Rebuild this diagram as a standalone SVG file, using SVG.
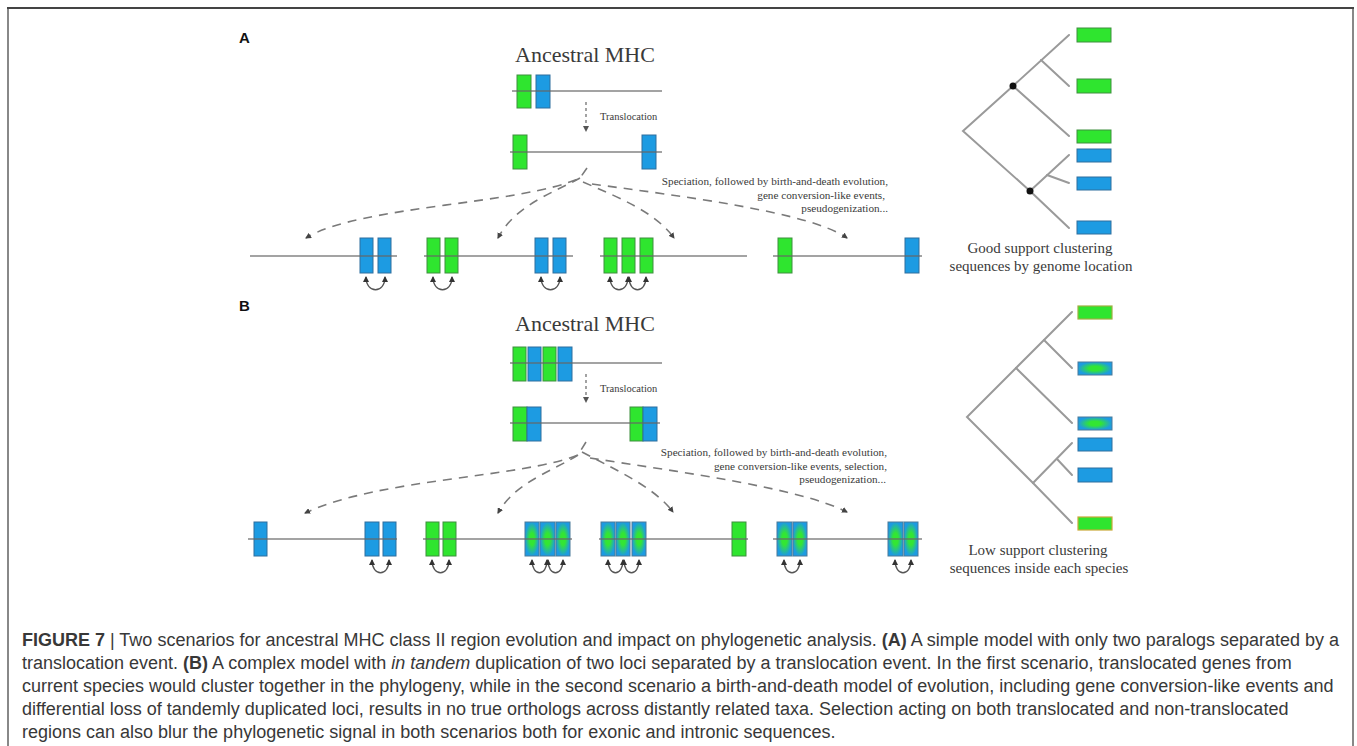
<svg xmlns="http://www.w3.org/2000/svg" width="1357" height="746" viewBox="0 0 1357 746">
<style>
.frame{stroke:#888;stroke-width:2;fill:none}
.chr{stroke:#666;stroke-width:2;stroke-opacity:.6}
.g{fill:#2fe52f;stroke:#3f8f3f;stroke-width:1}
.b{fill:#1d9be2;stroke:#2f6e9e;stroke-width:1}
.m{fill:url(#mix);stroke:#4a7a9a;stroke-width:1}
.dash{fill:none;stroke:#7a7a7a;stroke-width:1.6;stroke-dasharray:9 7;marker-end:url(#ah)}
.arc{fill:none;stroke:#555;stroke-width:1.3;marker-start:url(#aa);marker-end:url(#aa)}
.tree{stroke:#9a9a9a;stroke-width:2;fill:none;stroke-linecap:round}
.serif{font-family:"Liberation Serif","Times New Roman",serif;fill:#3a3a3a}
.lbl{font-family:"Liberation Sans",Arial,sans-serif;font-weight:bold;font-size:15px;fill:#111}
.cap{font-family:"Liberation Sans",Arial,sans-serif;font-size:18px;fill:#383838}
</style>
<defs>
<radialGradient id="mix" cx="0.5" cy="0.5" r="0.5">
<stop offset="0" stop-color="#33e633"/>
<stop offset="0.35" stop-color="#33e633"/>
<stop offset="1" stop-color="#1d9be2"/>
</radialGradient>
<marker id="ah" markerWidth="6" markerHeight="6" refX="5" refY="3" orient="auto" markerUnits="userSpaceOnUse">
<path d="M0,0 L6,3 L0,6 z" fill="#444"/>
</marker>
<marker id="aa" markerWidth="6" markerHeight="6" refX="5" refY="3" orient="auto-start-reverse" markerUnits="userSpaceOnUse">
<path d="M0,0 L6,3 L0,6 z" fill="#333"/>
</marker>
<marker id="av" markerWidth="6" markerHeight="6" refX="5" refY="3" orient="auto" markerUnits="userSpaceOnUse">
<path d="M0,0 L6,3 L0,6 z" fill="#555"/>
</marker>
</defs>
<rect width="1357" height="746" fill="#fff"/>
<g id="frame">
<line x1="8" y1="8" x2="8" y2="746" class="frame"/>
<line x1="1353" y1="8" x2="1353" y2="746" class="frame"/>
<line x1="7" y1="8" x2="1354" y2="8" stroke="#444" stroke-width="2"/>
</g>

<!-- ================= PANEL A ================= -->
<g id="panelA">
<text x="239" y="43" class="lbl">A</text>
<text x="515" y="62" class="serif" font-size="22">Ancestral MHC</text>

<g id="A-ancestral">
<rect x="517" y="75" width="14" height="33" class="g"/>
<rect x="536" y="75" width="14" height="33" class="b"/>
<line x1="512" y1="91" x2="662" y2="91" class="chr"/>
</g>
<g id="A-translocation">
<line x1="586" y1="102" x2="586" y2="131" stroke="#666" stroke-width="1.2" stroke-dasharray="3 3" marker-end="url(#av)"/>
<text x="600" y="120" class="serif" font-size="10.5">Translocation</text>
</g>
<g id="A-translocated">
<rect x="513" y="135" width="14" height="34" class="g"/>
<rect x="642" y="135" width="14" height="34" class="b"/>
<line x1="510" y1="152" x2="662" y2="152" class="chr"/>
</g>
<g id="A-speciation" class="serif" font-size="11.2" text-anchor="end">
<text x="888" y="185">Speciation, followed by birth-and-death evolution,</text>
<text x="885" y="198.5">gene conversion-like events,</text>
<text x="888" y="212">pseudogenization...</text>
</g>

<g id="A-species1">
<rect x="360" y="238" width="13" height="35" class="b"/>
<rect x="378" y="238" width="13" height="35" class="b"/>
<line x1="250" y1="256" x2="397" y2="256" class="chr"/>
</g>
<g id="A-species2">
<rect x="427" y="238" width="13" height="35" class="g"/>
<rect x="445" y="238" width="13" height="35" class="g"/>
<rect x="535" y="238" width="13" height="35" class="b"/>
<rect x="553" y="238" width="13" height="35" class="b"/>
<line x1="424" y1="256" x2="573" y2="256" class="chr"/>
</g>
<g id="A-species3">
<rect x="604" y="238" width="13" height="35" class="g"/>
<rect x="622" y="238" width="13" height="35" class="g"/>
<rect x="640" y="238" width="13" height="35" class="g"/>
<line x1="600" y1="256" x2="747" y2="256" class="chr"/>
</g>
<g id="A-species4">
<rect x="778" y="238" width="14" height="35" class="g"/>
<rect x="905" y="238" width="14" height="35" class="b"/>
<line x1="773" y1="256" x2="922" y2="256" class="chr"/>
</g>

<g id="A-treeGroup">
<g id="A-tree" class="tree">
<path d="M1013,86 L963,131 L1030,191"/>
<path d="M1013,86 L1069,35"/>
<path d="M1041,60 L1069,86"/>
<path d="M1013,86 L1069,136"/>
<path d="M1030,191 L1069,155"/>
<path d="M1047,175 L1069,183"/>
<path d="M1030,191 L1069,228"/>
</g>
<circle cx="1013" cy="86" r="3.5" fill="#111"/>
<circle cx="1030" cy="191" r="3.5" fill="#111"/>
<rect x="1077" y="28" width="34" height="14" class="g"/>
<rect x="1077" y="79" width="34" height="14" class="g"/>
<rect x="1077" y="130" width="34" height="13" class="g"/>
<rect x="1077" y="149" width="34" height="13" class="b"/>
<rect x="1077" y="177" width="34" height="13" class="b"/>
<rect x="1077" y="221" width="34" height="13" class="b"/>
<text x="1040" y="253" class="serif" font-size="15" text-anchor="middle">Good support clustering</text>
<text x="1041" y="271" class="serif" font-size="15" text-anchor="middle">sequences by genome location</text>
</g>
</g>

<!-- ================= PANEL B ================= -->
<g id="panelB">
<text x="239" y="311" class="lbl">B</text>
<text x="515" y="331" class="serif" font-size="22">Ancestral MHC</text>

<g id="B-ancestral">
<rect x="513" y="347" width="13" height="34" class="g"/>
<rect x="528" y="347" width="13" height="34" class="b"/>
<rect x="543" y="347" width="13" height="34" class="g"/>
<rect x="558" y="347" width="14" height="34" class="b"/>
<line x1="510" y1="363" x2="662" y2="363" class="chr"/>
</g>
<g id="B-translocation">
<line x1="586" y1="374" x2="586" y2="402" stroke="#666" stroke-width="1.2" stroke-dasharray="3 3" marker-end="url(#av)"/>
<text x="600" y="392" class="serif" font-size="10.5">Translocation</text>
</g>
<g id="B-translocated">
<rect x="513" y="407" width="14" height="34" class="g"/>
<rect x="527" y="407" width="14" height="34" class="b"/>
<rect x="630" y="407" width="13" height="34" class="g"/>
<rect x="643" y="407" width="14" height="34" class="b"/>
<line x1="510" y1="423" x2="660" y2="423" class="chr"/>
</g>
<g id="B-speciation" class="serif" font-size="11.2" text-anchor="end">
<text x="887" y="456">Speciation, followed by birth-and-death evolution,</text>
<text x="887" y="469.5">gene conversion-like events, selection,</text>
<text x="886" y="483">pseudogenization...</text>
</g>

<g id="B-species1">
<rect x="254" y="522" width="13" height="34" class="b"/>
<rect x="365" y="522" width="14" height="34" class="b"/>
<rect x="383" y="522" width="13" height="34" class="b"/>
<line x1="248" y1="539" x2="397" y2="539" class="chr"/>
</g>
<g id="B-species2">
<rect x="426" y="522" width="13" height="34" class="g"/>
<rect x="443" y="522" width="13" height="34" class="g"/>
<rect x="525" y="522" width="14" height="34" class="m"/>
<rect x="540" y="522" width="15" height="34" class="m"/>
<rect x="556" y="522" width="14" height="34" class="m"/>
<line x1="423" y1="539" x2="572" y2="539" class="chr"/>
</g>
<g id="B-species3">
<rect x="601" y="522" width="14" height="34" class="m"/>
<rect x="616" y="522" width="14" height="34" class="m"/>
<rect x="632" y="522" width="14" height="34" class="m"/>
<rect x="732" y="522" width="14" height="34" class="g"/>
<line x1="599" y1="539" x2="748" y2="539" class="chr"/>
</g>
<g id="B-species4">
<rect x="777" y="522" width="15" height="34" class="m"/>
<rect x="793" y="522" width="14" height="34" class="m"/>
<rect x="888" y="522" width="15" height="34" class="m"/>
<rect x="904" y="522" width="14" height="34" class="m"/>
<line x1="773" y1="539" x2="922" y2="539" class="chr"/>
</g>

<g id="B-treeGroup">
<g id="B-tree" class="tree">
<path d="M1016,368 L967,417 L1033,483"/>
<path d="M1016,368 L1072,312"/>
<path d="M1044,340 L1072,368"/>
<path d="M1016,368 L1072,423"/>
<path d="M1033,483 L1072,443"/>
<path d="M1057,459 L1072,475"/>
<path d="M1033,483 L1072,523"/>
</g>
<rect x="1078" y="306" width="34" height="13" fill="#2fe52f" stroke="#9fb040" stroke-width="1.2"/>
<rect x="1078" y="362" width="34" height="13" class="m"/>
<rect x="1078" y="417" width="34" height="13" class="m"/>
<rect x="1078" y="438" width="34" height="13" class="b"/>
<rect x="1078" y="468" width="34" height="14" class="b"/>
<rect x="1078" y="517" width="34" height="13" fill="#2fe52f" stroke="#c8a838" stroke-width="1.2"/>
<text x="1038" y="555" class="serif" font-size="15" text-anchor="middle">Low support clustering</text>
<text x="1039" y="573" class="serif" font-size="15" text-anchor="middle">sequences inside each species</text>
</g>
</g>

<!-- ================= CONNECTORS ================= -->
<g id="connectors">
<g id="A-dashed">
<path class="dash" d="M587,168 L580,178 C520,205 360,205 306,238"/>
<path class="dash" d="M580,178 C555,192 515,205 498,238"/>
<path class="dash" d="M583,182 C620,198 655,212 674,238"/>
<path class="dash" d="M592,184 C680,196 810,212 847,238"/>
</g>
<g id="A-conversion">
<path class="arc" d="M366,277 C366,294 385,294 385,277"/>
<path class="arc" d="M433,277 C433,294 452,294 452,277"/>
<path class="arc" d="M541,277 C541,294 560,294 560,277"/>
<path class="arc" d="M610,277 C610,294 628,294 628,277"/>
<path class="arc" d="M629,277 C629,294 646,294 646,277"/>
</g>
<g id="B-dashed">
<path class="dash" d="M586,442 L578,455 C520,478 380,478 305,513"/>
<path class="dash" d="M578,455 C555,470 515,482 498,513"/>
<path class="dash" d="M582,452 C620,472 655,488 673,512"/>
<path class="dash" d="M590,458 C680,472 800,488 847,512"/>
</g>
<g id="B-conversion">
<path class="arc" d="M372,560 C372,577 389,577 389,560"/>
<path class="arc" d="M432,560 C432,577 449,577 449,560"/>
<path class="arc" d="M532,560 C532,577 547,577 547,560"/>
<path class="arc" d="M548,560 C548,577 563,577 563,560"/>
<path class="arc" d="M608,560 C608,577 623,577 623,560"/>
<path class="arc" d="M624,560 C624,577 639,577 639,560"/>
<path class="arc" d="M784,560 C784,577 800,577 800,560"/>
<path class="arc" d="M895,560 C895,577 911,577 911,560"/>
</g>
</g>

<!-- ================= CAPTION ================= -->
<g id="caption" class="cap">
<text x="22" y="646"><tspan font-weight="bold">FIGURE 7</tspan> | Two scenarios for ancestral MHC class II region evolution and impact on phylogenetic analysis. <tspan font-weight="bold">(A)</tspan> A simple model with only two paralogs separated by a</text>
<text x="22" y="669">translocation event. <tspan font-weight="bold">(B)</tspan> A complex model with <tspan font-style="italic">in tandem</tspan> duplication of two loci separated by a translocation event. In the first scenario, translocated genes from</text>
<text x="22" y="692">current species would cluster together in the phylogeny, while in the second scenario a birth-and-death model of evolution, including gene conversion-like events and</text>
<text x="22" y="715">differential loss of tandemly duplicated loci, results in no true orthologs across distantly related taxa. Selection acting on both translocated and non-translocated</text>
<text x="22" y="738">regions can also blur the phylogenetic signal in both scenarios both for exonic and intronic sequences.</text>
</g>
</svg>
